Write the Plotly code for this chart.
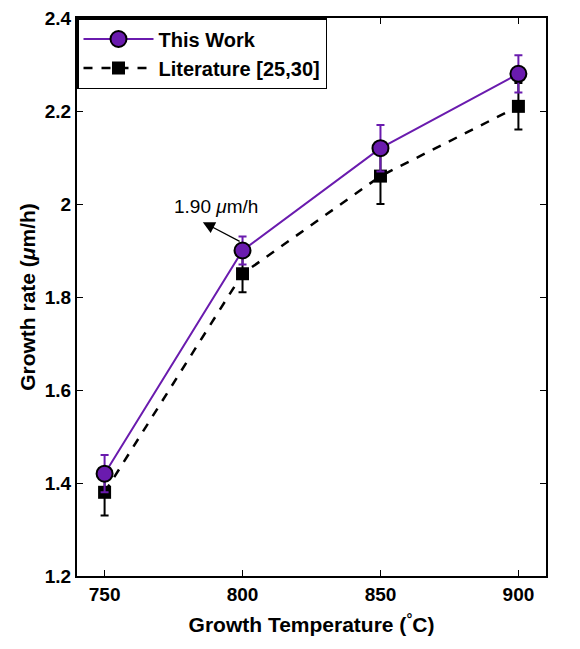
import plotly.graph_objects as go

temps = [750, 800, 850, 900]
this_work = [1.42, 1.90, 2.12, 2.28]
this_work_err = [0.04, 0.03, 0.05, 0.04]
literature = [1.38, 1.85, 2.06, 2.21]
literature_err = [0.05, 0.04, 0.06, 0.05]
x_ticks = [750, 800, 850, 900]
x_tick_labels = ["750", "800", "850", "900"]
y_ticks = [1.2, 1.4, 1.6, 1.8, 2.0, 2.2, 2.4]
y_tick_labels = ["1.2", "1.4", "1.6", "1.8", "2", "2.2", "2.4"]

purple = "#6A1BAE"
font = "Liberation Sans, Arial, sans-serif"

fig = go.Figure()
fig.add_trace(go.Scatter(
    x=temps, y=literature, name="<b>Literature [25,30]</b>",
    mode="lines+markers",
    line=dict(color="black", width=2.5, dash="dash"),
    marker=dict(symbol="square", size=13, color="black"),
    error_y=dict(type="data", array=literature_err, color="black", thickness=2, width=4),
))
fig.add_trace(go.Scatter(
    x=temps, y=this_work, name="<b>This Work</b>",
    mode="lines+markers",
    line=dict(color=purple, width=2),
    marker=dict(symbol="circle", size=16, color=purple, line=dict(color="black", width=2)),
    error_y=dict(type="data", array=this_work_err, color=purple, thickness=2, width=4),
))

fig.add_annotation(x=785.6, y=1.961, ax=799.5, ay=1.918, xref="x", yref="y",
                   axref="x", ayref="y", text="", showarrow=True,
                   arrowhead=2, arrowsize=2, arrowwidth=1.2, arrowcolor="black")
fig.add_annotation(x=790.3, y=1.994, xref="x", yref="y", text="1.90 <i>μ</i>m/h",
                   showarrow=False, font=dict(family=font, size=19, color="black"))

axis_common = dict(showline=True, linecolor="black", linewidth=2, mirror="ticks",
                   ticks="inside", ticklen=6, tickwidth=1, tickcolor="black",
                   showgrid=False, zeroline=False, automargin=False,
                   ticklabeloverflow="allow",
                   tickfont=dict(family=font, size=19, color="black"))

fig.update_xaxes(range=[740, 910], tickvals=x_ticks,
                 ticktext=["<b>%s</b>" % t for t in x_tick_labels],
                 title=dict(text="<b>Growth Temperature (<sup>°</sup>C)</b>",
                            font=dict(family=font, size=21, color="black"), standoff=14),
                 **axis_common)
fig.update_yaxes(range=[1.2, 2.4], tickvals=y_ticks,
                 ticktext=["<b>%s</b>" % t for t in y_tick_labels],
                 title=dict(text="<b>Growth rate (<i>μ</i>m/h)</b>",
                            font=dict(family=font, size=21, color="black"), standoff=3),
                 **axis_common)

fig.update_layout(
    width=572, height=641,
    margin=dict(l=69, r=34, t=10, b=73),
    plot_bgcolor="white", paper_bgcolor="white",
    font=dict(family=font, color="black"),
    legend=dict(x=0, y=1, xanchor="left", yanchor="top",
                bgcolor="white", bordercolor="black", borderwidth=1.5,
                font=dict(family=font, size=20, color="black"),
                traceorder="reversed", itemwidth=70,
                tracegroupgap=0),
)

fig.write_html("out.html")
